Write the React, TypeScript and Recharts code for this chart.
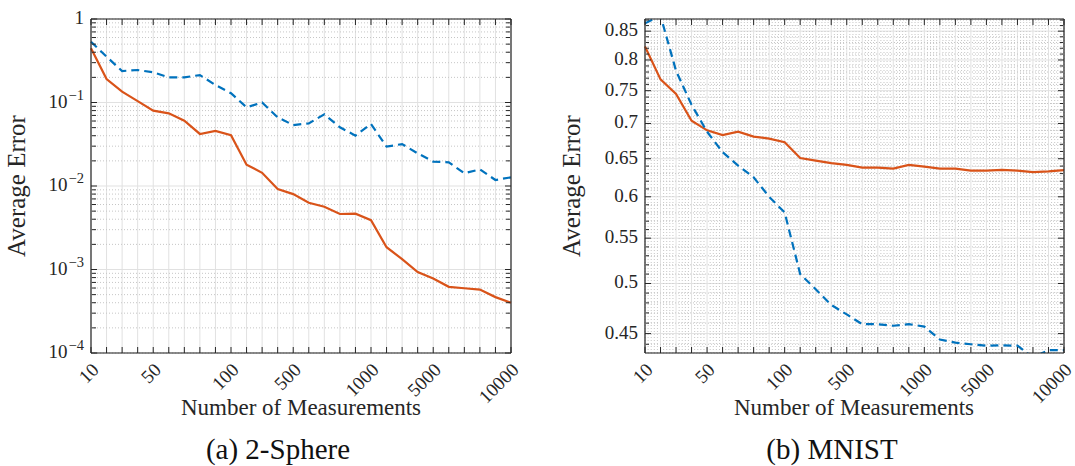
import React from 'react';
import { LineChart, Line, XAxis, YAxis, CartesianGrid } from 'recharts';

const FONT = "'Liberation Serif', 'DejaVu Serif', serif";
const AXIS = '#262626';
const GRID = '#e1e1e1';
const MINOR = '#c6c6c6';
const ORANGE = '#D95319';
const BLUE = '#0072BD';

// Number of measurements (categories, evenly spaced by index)
const measurements = [
  10, 20, 30, 40, 50, 60, 70, 80, 90, 100,
  200, 300, 400, 500, 600, 700, 800, 900, 1000,
  2000, 3000, 4000, 5000, 6000, 7000, 8000, 9000, 10000,
];
const xTickLabels = ['10', '50', '100', '500', '1000', '5000', '10000'];

// (a) 2-Sphere
const sphereSolid = [
  0.446, 0.191, 0.135, 0.104, 0.0798, 0.0742, 0.0605, 0.042, 0.0456, 0.0405,
  0.018, 0.0144, 0.0092, 0.008, 0.0063, 0.00565, 0.00462, 0.00466, 0.0039,
  0.00185, 0.00133, 0.00093, 0.00078, 0.00062, 0.000596, 0.000575, 0.000467, 0.0004,
];
const sphereDashed = [
  0.535, 0.354, 0.238, 0.245, 0.23, 0.2, 0.2, 0.213, 0.162, 0.129,
  0.0876, 0.1, 0.0664, 0.0537, 0.0562, 0.0722, 0.0505, 0.0401, 0.0553,
  0.0296, 0.0318, 0.0246, 0.0196, 0.0192, 0.0142, 0.0158, 0.0118, 0.0127,
];

// (b) MNIST
const mnistSolid = [
  0.823, 0.768, 0.745, 0.704, 0.69, 0.683, 0.688, 0.681, 0.678, 0.673,
  0.651, 0.6475, 0.644, 0.6417, 0.638, 0.638, 0.6366, 0.6417, 0.6394,
  0.6366, 0.6366, 0.634, 0.634, 0.635, 0.634, 0.632, 0.633, 0.6345,
];
const mnistDashed = [
  0.864, 0.878, 0.782, 0.728, 0.688, 0.659, 0.6406, 0.625, 0.6, 0.5805,
  0.51, 0.494, 0.478, 0.4685, 0.459, 0.459, 0.4575, 0.459, 0.4567,
  0.4444, 0.4415, 0.44, 0.4387, 0.439, 0.4387, 0.428, 0.4347, 0.4347,
];

const sphereYTicks = [1e-4, 1e-3, 1e-2, 1e-1, 1];
const sphereYMinor = [1e-4, 1e-3, 1e-2, 1e-1].flatMap((d) => [2, 3, 4, 5, 6, 7, 8, 9].map((k) => k * d));
const mnistYTicks = [0.45, 0.5, 0.55, 0.6, 0.65, 0.7, 0.75, 0.8, 0.85];
const mnistYMinor = Array.from({ length: 44 }, (_, i) => Math.round((0.44 + i * 0.01) * 100) / 100).filter(
  (v) => Math.round(v * 100) % 5 !== 0 && v < 0.872
);

const xIdx = measurements.map((_, i) => i);
const xMinorIdx = xIdx.slice(0, -1).flatMap((i) => [0.2, 0.4, 0.6, 0.8].map((f) => i + f));

const sphereData = measurements.map((n, i) => ({ idx: i, n, solid: sphereSolid[i], dashed: sphereDashed[i] }));
const mnistData = measurements.map((n, i) => ({ idx: i, n, solid: mnistSolid[i], dashed: mnistDashed[i] }));

const EmptyTick = () => <g />;

const XTick = (props: any) => {
  const { x, y, payload } = props;
  const n = String(measurements[payload.value]);
  if (!xTickLabels.includes(n)) return <g />;
  return (
    <text
      transform={`translate(${x + 9},${y + 16}) rotate(-45)`}
      textAnchor="end"
      style={{ fontFamily: FONT }}
      fontSize={19}
      fill={AXIS}
    >
      {n}
    </text>
  );
};

const PowTick = (props: any) => {
  const { x, y, payload } = props;
  const e = Math.round(Math.log10(payload.value));
  if (e === 0) {
    return (
      <text x={x} y={y + 5} textAnchor="end" style={{ fontFamily: FONT }} fontSize={19} fill={AXIS}>
        1
      </text>
    );
  }
  return (
    <text x={x} y={y + 5} textAnchor="end" style={{ fontFamily: FONT }} fontSize={19} fill={AXIS}>
      10
      <tspan dx={1} dy={-8} fontSize={14.5}>
        {'\u2212' + Math.abs(e)}
      </tspan>
    </text>
  );
};

const DecTick = (props: any) => {
  const { x, y, payload } = props;
  return (
    <text x={x} y={y + 5} textAnchor="end" style={{ fontFamily: FONT }} fontSize={19} fill={AXIS}>
      {String(payload.value)}
    </text>
  );
};

type PanelProps = {
  left: number;
  width: number;
  rightMargin: number;
  yWidth: number;
  data: any[];
  yDomain: [number, number];
  yTicks: number[];
  yMinor: number[];
  yTick: any;
  xMinor?: number[];
  minorTick: number;
};

function Panel(p: PanelProps) {
  const common = {
    type: 'number' as const,
    scale: 'log' as const,
    domain: p.yDomain,
    allowDataOverflow: true,
    interval: 0 as const,
    tick: EmptyTick,
    width: 1,
    mirror: true,
  };
  const xcommon = {
    type: 'number' as const,
    domain: [0, 27] as [number, number],
    allowDataOverflow: true,
    interval: 0 as const,
    tick: EmptyTick,
    height: 1,
    mirror: true,
  };
  return (
    <div style={{ position: 'absolute', left: p.left, top: 0 }}>
      <LineChart
        width={p.width}
        height={420}
        data={p.data}
        margin={{ top: 19, right: p.rightMargin, left: 0, bottom: 0 }}
      >
        <CartesianGrid stroke={GRID} strokeWidth={1} />
        <CartesianGrid yAxisId="minL" vertical={false} stroke={MINOR} strokeWidth={1} strokeDasharray="1 2" />
        {p.xMinor && (
          <CartesianGrid xAxisId="minX" horizontal={false} stroke={MINOR} strokeWidth={1} strokeDasharray="1 2" />
        )}
        <XAxis
          dataKey="idx"
          type="number"
          domain={[0, 27]}
          ticks={xIdx}
          interval={0}
          height={67}
          tickSize={0}
          tickLine={false}
          axisLine={{ stroke: AXIS, strokeWidth: 1.2 }}
          tick={<XTick />}
        />
        <YAxis
          type="number"
          scale="log"
          domain={p.yDomain}
          allowDataOverflow
          ticks={p.yTicks}
          interval={0}
          width={p.yWidth}
          tickSize={0}
          tickMargin={7}
          tickLine={false}
          axisLine={{ stroke: AXIS, strokeWidth: 1.2 }}
          tick={p.yTick}
        />
        {/* inward tick marks */}
        <XAxis xAxisId="top" orientation="top" {...xcommon} ticks={xIdx} tickSize={6} tickLine={{ stroke: AXIS }} axisLine={{ stroke: AXIS, strokeWidth: 1.2 }} />
        <XAxis xAxisId="bot" orientation="bottom" {...xcommon} ticks={xIdx} tickSize={6} tickLine={{ stroke: AXIS }} axisLine={false} />
        {p.xMinor && (
          <XAxis xAxisId="minX" orientation="bottom" {...xcommon} ticks={p.xMinor} tickLine={false} axisLine={false} />
        )}
        <YAxis yAxisId="majL" orientation="left" {...common} ticks={p.yTicks} tickSize={6} tickLine={{ stroke: AXIS }} axisLine={false} />
        <YAxis yAxisId="minL" orientation="left" {...common} ticks={p.yMinor} tickSize={p.minorTick} tickLine={{ stroke: AXIS }} axisLine={false} />
        <YAxis yAxisId="majR" orientation="right" {...common} ticks={p.yTicks} tickSize={6} tickLine={{ stroke: AXIS }} axisLine={{ stroke: AXIS, strokeWidth: 1.2 }} />
        <YAxis yAxisId="minR" orientation="right" {...common} ticks={p.yMinor} tickSize={p.minorTick} tickLine={{ stroke: AXIS }} axisLine={false} />
        <Line
          dataKey="solid"
          stroke={ORANGE}
          strokeWidth={2.2}
          dot={false}
          activeDot={false}
          isAnimationActive={false}
        />
        <Line
          dataKey="dashed"
          stroke={BLUE}
          strokeWidth={2.2}
          strokeDasharray="8 5"
          dot={false}
          activeDot={false}
          isAnimationActive={false}
        />
      </LineChart>
    </div>
  );
}

export default function App() {
  return (
    <div
      className="fig-root"
      style={{ position: 'absolute', left: 0, top: 0, width: 1075, height: 466, background: '#fff', fontFamily: FONT }}
    >
      <style>{`.fig-root text, .fig-root tspan { font-family: ${FONT} !important; }`}</style>
      <Panel
        left={0}
        width={530}
        rightMargin={19}
        yWidth={91}
        data={sphereData}
        yDomain={[1e-4, 1]}
        yTicks={sphereYTicks}
        yMinor={sphereYMinor}
        yTick={<PowTick />}
        minorTick={4}
      />
      <Panel
        left={540}
        width={535}
        rightMargin={11}
        yWidth={105}
        data={mnistData}
        yDomain={[0.432, 0.872]}
        yTicks={mnistYTicks}
        yMinor={mnistYMinor}
        yTick={<DecTick />}
        xMinor={xMinorIdx}
        minorTick={3}
      />
      <svg
        width={1075}
        height={466}
        style={{ position: 'absolute', left: 0, top: 0, pointerEvents: 'none', fontFamily: FONT }}
      >
        <text transform="translate(25,186) rotate(-90)" textAnchor="middle" fontSize={25} fill={AXIS}>
          Average Error
        </text>
        <text transform="translate(580,186) rotate(-90)" textAnchor="middle" fontSize={25} fill={AXIS}>
          Average Error
        </text>
        <text x={301} y={415} textAnchor="middle" fontSize={23} fill={AXIS}>
          Number of Measurements
        </text>
        <text x={854} y={415} textAnchor="middle" fontSize={23} fill={AXIS}>
          Number of Measurements
        </text>
        <text x={278} y={459} textAnchor="middle" fontSize={29} fill="#111">
          (a) 2-Sphere
        </text>
        <text x={832} y={459} textAnchor="middle" fontSize={29} fill="#111">
          (b) MNIST
        </text>
      </svg>
    </div>
  );
}
